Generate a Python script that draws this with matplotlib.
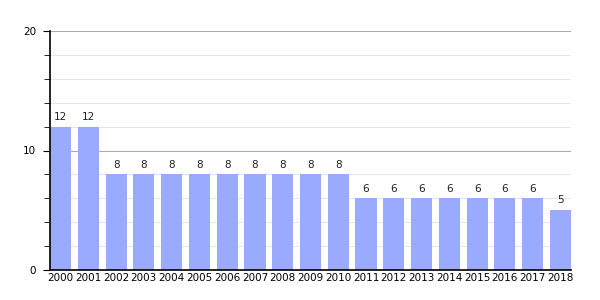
import numpy as np
import matplotlib
matplotlib.use('Agg')
import matplotlib.pyplot as plt
from matplotlib.ticker import MultipleLocator

years = [str(y) for y in range(2000, 2019)]
values = [12, 12, 8, 8, 8, 8, 8, 8, 8, 8, 8, 6, 6, 6, 6, 6, 6, 6, 5]

bar_w = 0.76
fig = plt.figure(figsize=(6, 3), dpi=100)
ax = fig.add_axes([50 / 600, 0.1, 521 / 600, 239 / 300])

x = np.arange(len(years))
ax.bar(x, values, width=bar_w, color='#9aabff', zorder=2)
for xi, v in zip(x, values):
    ax.text(xi, v + 0.4, str(v), ha='center', va='bottom', fontsize=7.5, color='#222222')

ax.set_xlim(-bar_w / 2, len(years) - 1 + bar_w / 2)
ax.set_ylim(0, 20)
ax.set_xticks(x)
ax.set_xticklabels(years, fontsize=7.5)
ax.tick_params(axis='x', length=0, pad=2)
ax.yaxis.set_major_locator(MultipleLocator(10))
ax.yaxis.set_minor_locator(MultipleLocator(2))
ax.tick_params(axis='y', which='major', length=5, labelsize=7.5, pad=5)
ax.tick_params(axis='y', which='minor', length=4)
ax.grid(axis='y', which='major', color='#aaaaaa', linewidth=0.8, zorder=0)
ax.grid(axis='y', which='minor', color='#e6e6e6', linewidth=0.8, zorder=0)
ax.set_axisbelow(True)
for s in ['top', 'right']:
    ax.spines[s].set_visible(False)
ax.spines['left'].set_linewidth(1.2)
ax.spines['bottom'].set_linewidth(1.2)

fig.savefig('out.png', dpi=100)
